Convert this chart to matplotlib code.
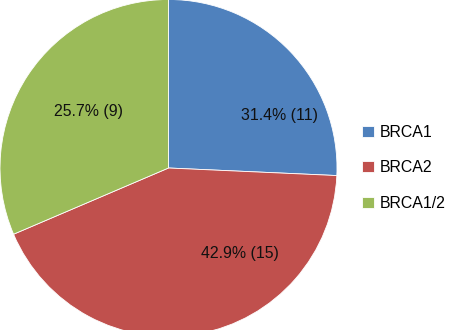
import numpy as np
import matplotlib
matplotlib.use("Agg")
import matplotlib.pyplot as plt

# data (slice sizes as drawn, label text as printed)
groups = ["BRCA1", "BRCA2", "BRCA1/2"]
counts = [9, 15, 11]
label_text = ["31.4% (11)", "42.9% (15)", "25.7% (9)"]
colors = ["#4F81BD", "#C0504D", "#9BBB59"]

plt.rcParams["font.family"] = ["Liberation Sans", "DejaVu Sans"]
fs = 11.4

fig = plt.figure(figsize=(4.52, 3.30), dpi=100)
ax = fig.add_axes([0, 0, 337 / 452, 1])

wedges, _ = ax.pie(counts, colors=colors, startangle=90, counterclock=False,
                   radius=1.0, wedgeprops=dict(edgecolor="white", linewidth=0.6))

# axes is 337x330 px, radius 1 -> 168.5 px, centre 168 px from top
ax.set_aspect("auto")
ax.set_xlim(-1.0, 1.0)
ax.set_ylim(-162 / 168.5, 168 / 168.5)

# label spots (angle in degrees, radius fraction), placed like the original
spots = [(25.5, 0.73), (-50, 0.66), (145, 0.58)]
for txt, (ang, r) in zip(label_text, spots):
    a = np.deg2rad(ang)
    ax.text(r * np.cos(a), r * np.sin(a), txt, ha="center", va="center",
            fontsize=fs, color="#111111")

fig.legend(wedges, groups, loc="center left", bbox_to_anchor=(362 / 452, 0.491),
           frameon=False, fontsize=fs, borderpad=0, borderaxespad=0,
           handlelength=0.75, handleheight=0.7, handletextpad=0.35,
           labelspacing=1.28)

fig.savefig("out.png", dpi=100)
